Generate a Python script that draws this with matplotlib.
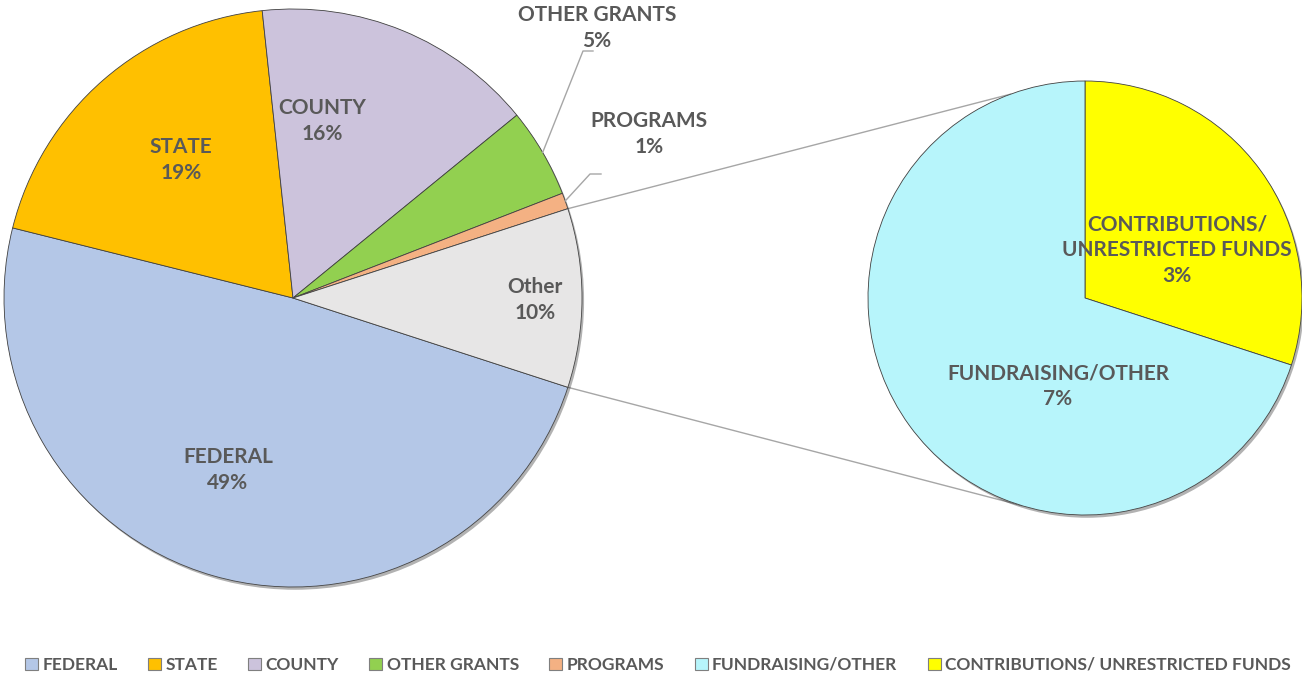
import matplotlib
matplotlib.use("Agg")
import matplotlib.pyplot as plt
import numpy as np
from matplotlib import patheffects as pe
from matplotlib.patches import Circle

# data
main_labels = ["FEDERAL", "STATE", "COUNTY", "OTHER GRANTS", "PROGRAMS", "Other"]
main_values = [48.9, 19.4, 15.8, 5.0, 0.9, 10.0]
main_colors = ["#B4C7E7", "#FFC000", "#CCC3DC", "#92D050", "#F4B183", "#E7E6E6"]

sub_labels = ["CONTRIBUTIONS/\nUNRESTRICTED FUNDS", "FUNDRAISING/OTHER"]
sub_legend = ["CONTRIBUTIONS/ UNRESTRICTED FUNDS", "FUNDRAISING/OTHER"]
sub_values = [3.0, 7.0]
sub_colors = ["#FFFF00", "#B7F5FB"]

W, H = 1302, 679
TXT = "#595959"
plt.rcParams["font.family"] = ["Lato", "DejaVu Sans"]

fig = plt.figure(figsize=(W/100, H/100), dpi=100)
ax = fig.add_axes([0, 0, 1, 1])

c1 = (293, H-298); r1 = 289
c2 = (1085, H-298); r2 = 217

shadow = [pe.SimplePatchShadow(offset=(1.5, -2), alpha=0.3, shadow_rgbFace="k"), pe.Normal()]
for c, r in [(c1, r1), (c2, r2)]:
    ax.add_patch(Circle(c, r, facecolor="white", edgecolor="none", zorder=0.5, path_effects=shadow))

other_share = main_values[-1] / sum(main_values) * 360
wp = dict(edgecolor="#404040", linewidth=0.6)
w1, _ = ax.pie(main_values, colors=main_colors, startangle=-other_share/2, counterclock=False,
               center=c1, radius=r1, wedgeprops=wp, frame=True)
w2, _ = ax.pie(sub_values, colors=sub_colors, startangle=90, counterclock=False,
               center=c2, radius=r2, wedgeprops=wp, frame=True)

def pt(c, r, ang):
    a = np.deg2rad(ang)
    return c[0] + r*np.cos(a), c[1] + r*np.sin(a)

# label positions (pixel coords from top-left)
lab_pos = {"FEDERAL": (228, 470), "STATE": (181, 160), "COUNTY": (322, 121), "Other": (535, 300),
           "OTHER GRANTS": (597, 28), "PROGRAMS": (649, 134)}
fs = 15
for lab, v, w in zip(main_labels, main_values, w1):
    x, y = lab_pos[lab]
    ax.text(x, H-y, f"{lab}\n{round(v):.0f}%", ha="center", va="center", fontsize=fs,
            fontweight="bold", color=TXT, linespacing=1.35, zorder=5)

# leader lines for the small slices
elbows = {"OTHER GRANTS": [(583, 51), (593, 51)], "PROGRAMS": [(590, 174), (601, 174)]}
for lab, w in zip(main_labels, w1):
    if lab in elbows:
        mid = (w.theta1 + w.theta2) / 2
        x0, y0 = pt(c1, r1, mid)
        xs = [x0] + [e[0] for e in elbows[lab]]
        ys = [y0] + [H-e[1] for e in elbows[lab]]
        ax.plot(xs, ys, color="#A6A6A6", lw=1, zorder=3)

sub_pos = [(1177, 250), (1058, 386)]
for lab, v, (x, y) in zip(sub_labels, sub_values, sub_pos):
    ax.text(x, H-y, f"{lab}\n{round(v):.0f}%", ha="center", va="center", fontsize=fs,
            fontweight="bold", color=TXT, linespacing=1.35, zorder=5)

# connector lines between the "Other" slice and the second pie
wo = w1[-1]
p_top = pt(c1, r1, wo.theta2)
p_bot = pt(c1, r1, wo.theta1)
q_top = pt(c2, r2, 110)
q_bot = pt(c2, r2, -107)
ax.plot([p_top[0], q_top[0]], [p_top[1], q_top[1]], color="#A6A6A6", lw=1, zorder=0.4)
ax.plot([p_bot[0], q_bot[0]], [p_bot[1], q_bot[1]], color="#A6A6A6", lw=1, zorder=0.4)

handles = list(w1[:5]) + [w2[1], w2[0]]
labels = main_labels[:5] + [sub_legend[1], sub_legend[0]]
leg = ax.legend(handles, labels, loc="center", bbox_to_anchor=(658/W, 1-665/H), ncol=7,
                frameon=False, prop=dict(size=12.5, weight="bold"), handlelength=0.75,
                handleheight=0.75, handletextpad=0.25, columnspacing=1.75, borderaxespad=0)
for t in leg.get_texts():
    t.set_color(TXT)
for hnd in leg.legend_handles:
    hnd.set_edgecolor("#7F7F7F")
    hnd.set_linewidth(0.8)

ax.set_xlim(0, W)
ax.set_ylim(0, H)
ax.set_aspect("equal")
ax.axis("off")
fig.savefig("out.png", dpi=100, facecolor="white")
